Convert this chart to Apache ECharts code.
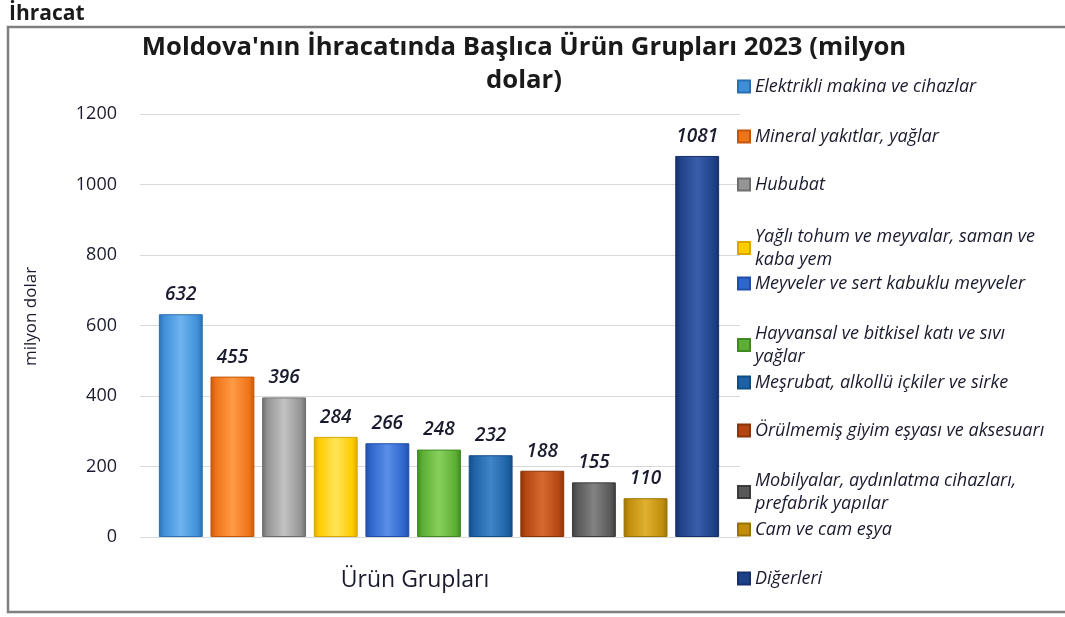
<!DOCTYPE html>
<html>
<head>
<meta charset="utf-8">
<script src="https://cdn.jsdelivr.net/npm/echarts@6/dist/echarts.min.js"></script>
<style>
  html, body { margin: 0; padding: 0; background: #fff; }
  #ihracat-chart { width: 1065px; height: 617px; }
</style>
</head>
<body>
<div id="ihracat-chart"></div>
<script>
// veriler
const urunGruplari = [
    'Elektrikli makina ve cihazlar',
    'Mineral yakıtlar, yağlar',
    'Hububat',
    'Yağlı tohum ve meyvalar, saman ve kaba yem',
    'Meyveler ve sert kabuklu meyveler',
    'Hayvansal ve bitkisel katı ve sıvı yağlar',
    'Meşrubat, alkollü içkiler ve sirke',
    'Örülmemiş giyim eşyası ve aksesuarı',
    'Mobilyalar, aydınlatma cihazları, prefabrik yapılar',
    'Cam ve cam eşya',
    'Diğerleri'
];
const ihracatDegerleri = [632, 455, 396, 284, 266, 248, 232, 188, 155, 110, 1081];
const yEksenEtiketleri = [0, 200, 400, 600, 800, 1000, 1200];

// renkler: [koyu, ana, açık]
const renkler = [
    ['#2a6fb0', '#3f8fd8', '#6db4f0'],
    ['#c4560a', '#ee7418', '#ff9a45'],
    ['#6e6e6e', '#959595', '#c2c2c2'],
    ['#d9a800', '#ffcc00', '#ffe45a'],
    ['#1f4fa8', '#2f66cc', '#5a8ee8'],
    ['#3f8a22', '#5cae34', '#88d05c'],
    ['#134d86', '#1d62a6', '#3f86c8'],
    ['#8a340a', '#b44712', '#d46a30'],
    ['#3c3c3c', '#585858', '#828282'],
    ['#9a7204', '#c08e0a', '#e0b030'],
    ['#15306a', '#1f4188', '#3a5eaa']
];
const legendY = [86, 136, 184, 236, 283, 333, 382, 430, 480, 529, 578];
// lejant metni kaydırma genişlikleri
const legendGenislik = [296, 296, 296, 320, 296, 296, 296, 400, 296, 296, 296];

const chart = echarts.init(document.getElementById('ihracat-chart'));

function barRenk(i) {
    const r = renkler[i];
    return new echarts.graphic.LinearGradient(0, 0, 1, 0, [
        { offset: 0, color: r[0] },
        { offset: 0.12, color: r[1] },
        { offset: 0.5, color: r[2] },
        { offset: 0.88, color: r[1] },
        { offset: 1, color: r[0] }
    ]);
}

const series = urunGruplari.map(function (ad, i) {
    const data = ihracatDegerleri.map(function (v, j) {
        return j === i ? v : '-';
    });
    return {
        name: ad,
        type: 'bar',
        stack: 'toplam',
        xAxisIndex: 1,
        yAxisIndex: 1,
        barWidth: '85%',
        data: data,
        itemStyle: {
            color: barRenk(i),
            borderColor: renkler[i][0],
            borderWidth: 1
        },
        label: {
            show: true,
            position: 'top',
            distance: 10,
            fontFamily: 'Open Sans',
            fontStyle: 'italic',
            fontWeight: 600,
            fontSize: 19,
            color: '#1a1a2e'
        }
    };
});

const legends = urunGruplari.map(function (ad, i) {
    return {
        data: [ad],
        left: 737,
        top: legendY[i] - 11,
        padding: 0,
        orient: 'vertical',
        itemWidth: 12,
        itemHeight: 12,
        itemGap: 0,
        icon: 'rect',
        selectedMode: false,
        itemStyle: { color: renkler[i][1] },
        textStyle: {
            fontFamily: 'Open Sans',
            fontStyle: 'italic',
            fontSize: 18,
            lineHeight: 23,
            color: '#1a1a2e',
            width: legendGenislik[i],
            overflow: 'break'
        }
    };
});

const option = {
    animation: false,
    backgroundColor: '#fff',
    title: [
        {
            text: 'İhracat',
            left: 9,
            top: 4,
            padding: 0,
            textStyle: { fontFamily: 'Open Sans', fontWeight: 'bold', fontSize: 21, color: '#1a1a1a' }
        },
        {
            text: "Moldova'nın İhracatında Başlıca Ürün Grupları 2023 (milyon\ndolar)",
            left: 524,
            top: 31,
            padding: 0,
            textAlign: 'center',
            textStyle: { fontFamily: 'Open Sans', fontWeight: 'bold', fontSize: 25.7, lineHeight: 33, color: '#1a1a1a' }
        }
    ],
    graphic: [
        {
            type: 'rect',
            shape: { x: 8, y: 27, width: 1100, height: 585 },
            style: { fill: null, stroke: '#808080', lineWidth: 2.5 },
            z: 100
        }
    ],
    legend: legends,
    grid: [
        { left: 140, right: 325, top: 114, bottom: 80 },
        { left: 155, right: 342, top: 114, bottom: 80 }
    ],
    xAxis: [
        {
            type: 'category',
            gridIndex: 0,
            data: urunGruplari,
            axisLine: { show: false },
            axisTick: { show: false },
            axisLabel: { show: false },
            name: 'Ürün Grupları',
            nameLocation: 'middle',
            nameGap: 32,
            nameTextStyle: { fontFamily: 'Open Sans', fontSize: 23, color: '#1a1a2e', padding: [0, 50, 0, 0] }
        },
        {
            type: 'category',
            gridIndex: 1,
            data: urunGruplari,
            axisLine: { show: false },
            axisTick: { show: false },
            axisLabel: { show: false }
        }
    ],
    yAxis: [
        {
            type: 'value',
            gridIndex: 0,
            min: yEksenEtiketleri[0],
            max: yEksenEtiketleri[yEksenEtiketleri.length - 1],
            interval: 200,
            axisLine: { show: false },
            axisTick: { show: false },
            splitLine: { lineStyle: { color: '#d9d9d9', width: 1 } },
            axisLabel: {
                margin: 23,
                fontFamily: 'Open Sans',
                fontSize: 18,
                color: '#1a1a2e',
                formatter: function (v) { return String(v); }
            },
            name: 'milyon dolar',
            nameLocation: 'middle',
            nameGap: 100,
            nameRotate: 90,
            nameTextStyle: { fontFamily: 'Open Sans', fontSize: 17, color: '#1a1a2e', padding: [0, 0, 0, 18] }
        },
        {
            type: 'value',
            gridIndex: 1,
            min: 0,
            max: 1200,
            interval: 200,
            show: false
        }
    ],
    series: series
};

chart.setOption(option);
</script>
</body>
</html>
